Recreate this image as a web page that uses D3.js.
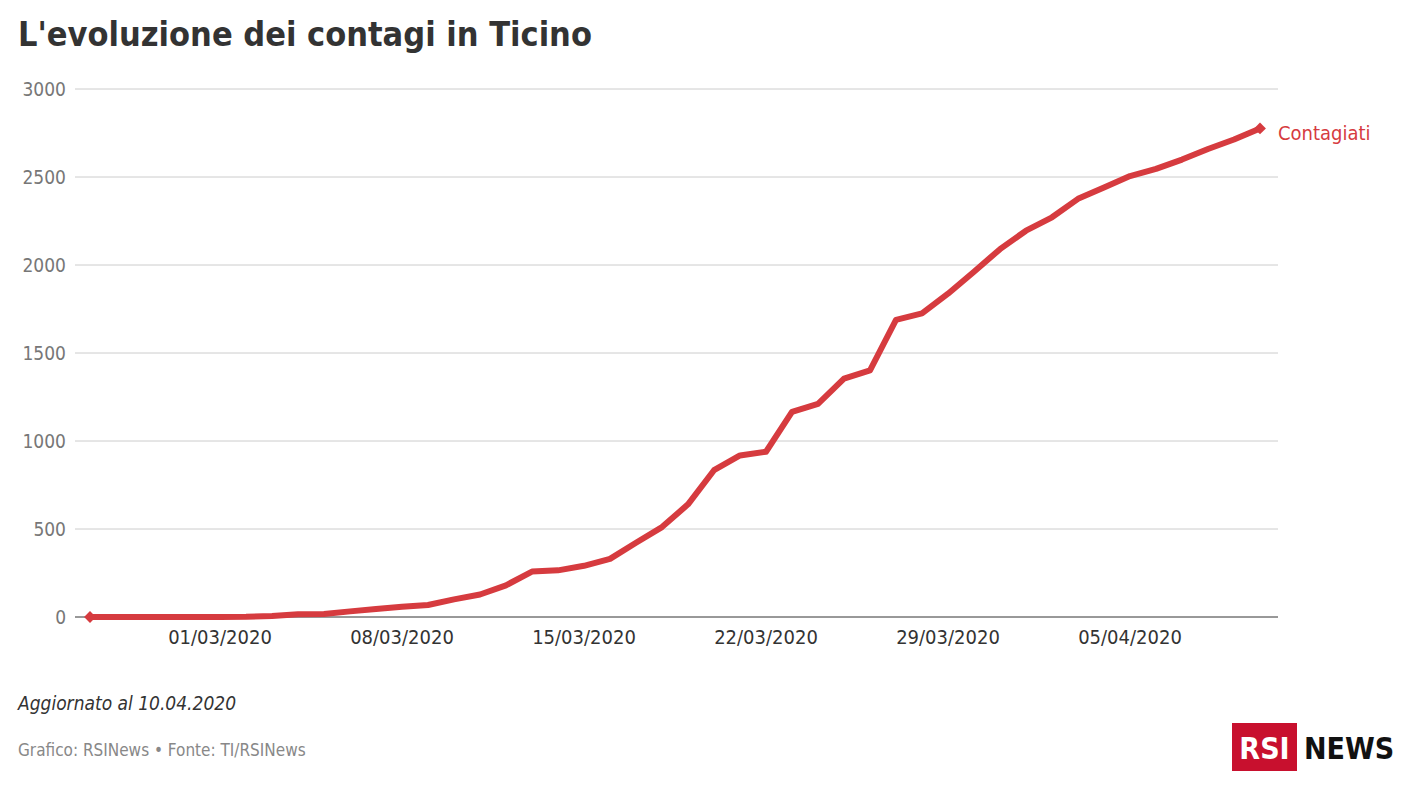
<!DOCTYPE html>
<html><head><meta charset="utf-8">
<script src="https://cdn.jsdelivr.net/npm/d3@7"></script>
<style>
body{margin:0;background:#fff;font-family:"DejaVu Sans Condensed","Noto Sans",sans-serif;}
</style></head>
<body><div id="canvas"></div>
<script>
// daily totals, 25/02/2020 .. 10/04/2020
var startDate = '2020-02-25';
var contagiati = [0,0,0,0,0,0,1,6,15,17,32,45,58,68,100,128,180,258,265,291,330,422,511,640,834,918,939,1165,1211,1354,1401,1688,1725,1837,1962,2090,2195,2271,2376,2441,2505,2546,2599,2659,2713,2776];
var yTicks = [0,500,1000,1500,2000,2500,3000];
var xTickLabels = ['01/03/2020','08/03/2020','15/03/2020','22/03/2020','29/03/2020','05/04/2020'];

var W = 1408, H = 792;
var svg = d3.select('#canvas').append('svg').attr('width',W).attr('height',H);

var parse = d3.timeParse('%Y-%m-%d'), fmt = d3.timeFormat('%d/%m/%Y');
var t0 = parse(startDate);
var rows = contagiati.map(function(v,i){ return {date:d3.timeDay.offset(t0,i), value:v}; });

var x = d3.scaleTime().domain([rows[0].date, rows[rows.length-1].date]).range([90,1260]);
var y = d3.scaleLinear().domain([0,3000]).range([617,89]);

svg.append('text').attr('x',18).attr('y',46).text("L'evoluzione dei contagi in Ticino")
  .attr('font-size',34).attr('font-weight','bold').attr('fill','#333');

var grid = svg.append('g');
yTicks.forEach(function(t){
  grid.append('line').attr('x1',75).attr('x2',1278).attr('y1',y(t)).attr('y2',y(t))
    .attr('stroke', t===0 ? '#333' : '#ccc').attr('stroke-width',1);
  grid.append('text').attr('x',66).attr('y',y(t)+7).attr('text-anchor','end')
    .attr('font-size',19).attr('fill','#777').text(t);
});

var tickDates = xTickLabels.map(function(s){ return d3.timeParse('%d/%m/%Y')(s); });
svg.append('g').selectAll('text').data(tickDates).enter().append('text')
  .attr('x',function(d){ return x(d); }).attr('y',644).attr('text-anchor','middle')
  .attr('font-size',20).attr('fill','#333').text(function(d){ return fmt(d); });

var line = d3.line().x(function(d){ return x(d.date); }).y(function(d){ return y(d.value); });
svg.append('path').datum(rows).attr('d',line).attr('fill','none')
  .attr('stroke','#d63b3f').attr('stroke-width',6).attr('stroke-linejoin','round');

var sym = d3.symbol().type(d3.symbolSquare).size(70);
[rows[0], rows[rows.length-1]].forEach(function(d){
  svg.append('path').attr('d',sym).attr('fill','#d63b3f')
    .attr('transform','translate('+x(d.date)+','+y(d.value)+') rotate(45)');
});
svg.append('text').attr('x',1278).attr('y',y(2776)+12).attr('font-size',20)
  .attr('fill','#d63b3f').text('Contagiati');

svg.append('text').attr('x',18).attr('y',710).attr('font-size',19).attr('font-style','italic')
  .attr('fill','#333').text('Aggiornato al 10.04.2020');
svg.append('text').attr('x',18).attr('y',756).attr('font-size',17)
  .attr('fill','#888').text('Grafico: RSINews • Fonte: TI/RSINews');

svg.append('rect').attr('x',1232).attr('y',723).attr('width',65).attr('height',48).attr('fill','#c8102e');
svg.append('text').attr('x',1264.5).attr('y',759).attr('text-anchor','middle').attr('font-size',30)
  .attr('font-weight','bold').attr('fill','#fff').text('RSI');
svg.append('text').attr('x',1304).attr('y',759).attr('font-size',30)
  .attr('font-weight','bold').attr('fill','#111').text('NEWS');
</script></body></html>
